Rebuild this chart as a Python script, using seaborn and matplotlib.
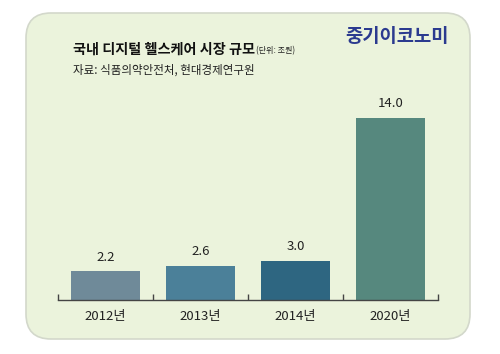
import matplotlib
matplotlib.use('Agg')
import matplotlib.pyplot as plt
import seaborn as sns
import pandas as pd
from matplotlib.patches import FancyBboxPatch

# Data
years = ['2012년', '2013년', '2014년', '2020년']
values = [2.2, 2.6, 3.0, 14.0]
bar_colors = ['#6F8A99', '#4B8099', '#2E6681', '#56887E']

df = pd.DataFrame({'year': years, 'value': values})

sns.set_theme(style='white')
plt.rcParams['font.family'] = ['Noto Sans CJK KR', 'DejaVu Sans']

W, H = 500, 354
fig = plt.figure(figsize=(5, 3.54), dpi=100)
fig.patch.set_facecolor('white')

# rounded background panel
panel = FancyBboxPatch((26 / W, 1 - 339 / H), (470 - 26) / W, (339 - 13) / H,
                       boxstyle='round,pad=0,rounding_size=0.05',
                       transform=fig.transFigure, facecolor='#EBF3DC',
                       edgecolor='#D3D8CB', linewidth=1.2, mutation_aspect=W / H,
                       zorder=-5)
fig.patches.append(panel)

# axes: x from 58 to 438 px, baseline at y=300
ax = fig.add_axes([58 / W, 1 - 300 / H, 380 / W, 200 / H])
ax.set_zorder(2)
ax.set_facecolor('none')
sns.barplot(data=df, x='year', y='value', hue='year', palette=bar_colors,
            width=0.72, legend=False, ax=ax, saturation=1, linewidth=0)
ax.set_xlim(-0.5, 3.5)
ax.set_ylim(0, 200 / 13)

for i, v in enumerate(values):
    ax.text(i, v + 0.6, f'{v:.1f}', ha='center', va='bottom', fontsize=9.5, color='#222222')

for s in ['top', 'right', 'left']:
    ax.spines[s].set_visible(False)
ax.spines['bottom'].set_color('#444444')
ax.spines['bottom'].set_linewidth(1)
ax.set_yticks([])
ax.set_xticks([-0.5, 0.5, 1.5, 2.5, 3.5], minor=True)
ax.tick_params(axis='x', which='minor', direction='in', length=4, width=1, color='#444444', bottom=True)
ax.tick_params(axis='x', which='major', length=0, labelsize=9.5, labelcolor='#222222', pad=7)
ax.set_xlabel('')
ax.set_ylabel('')

# titles
fig.text(73 / W, 1 - 50 / H, '국내 디지털 헬스케어 시장 규모', fontsize=10.2, fontweight='bold',
         color='#111111', va='center', ha='left', zorder=3)
fig.text(256 / W, 1 - 51 / H, '(단위: 조원)', fontsize=5.8, color='#222222', va='center', ha='left', zorder=3)
fig.text(73 / W, 1 - 70 / H, '자료: 식품의약안전처, 현대경제연구원', fontsize=8.3, color='#222222',
         va='center', ha='left', zorder=3)
fig.text(449 / W, 1 - 36 / H, '중기이코노미', fontsize=13.5, fontweight='bold', color='#2B3A8F',
         va='center', ha='right', zorder=3)

fig.savefig('out.png', dpi=100)
